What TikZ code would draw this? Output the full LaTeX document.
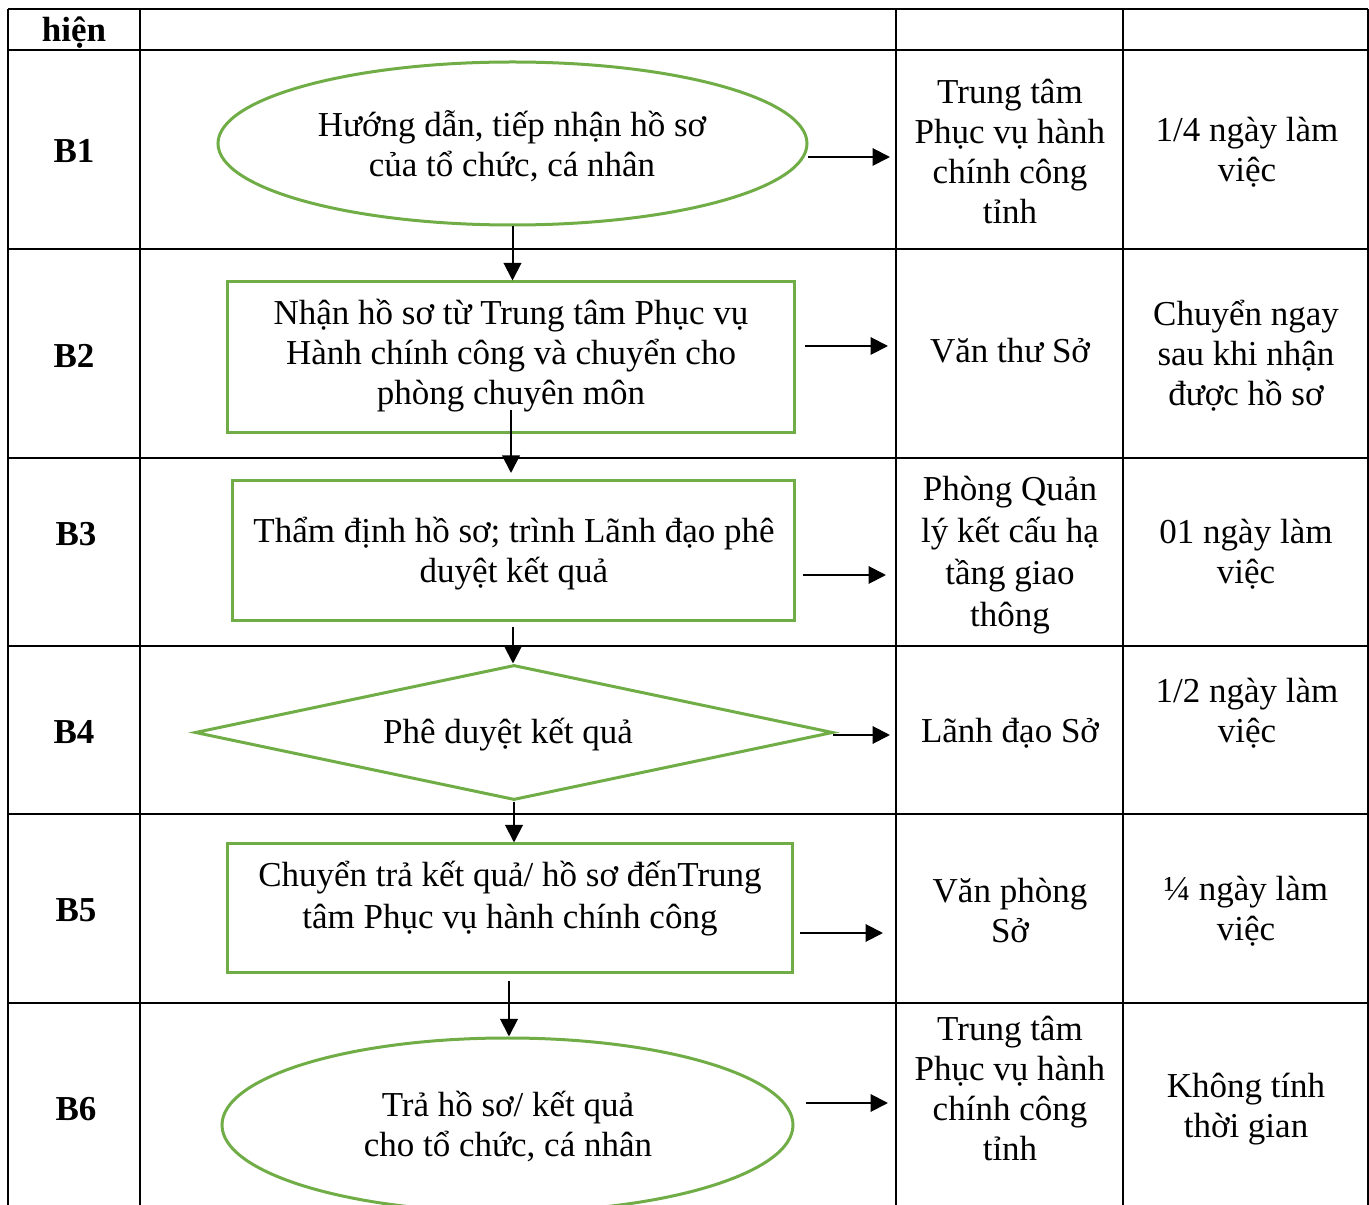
\documentclass[tikz,border=0pt]{standalone}
\usepackage{fontspec}
\setmainfont{Liberation Serif}
\usetikzlibrary{shapes.geometric,arrows.meta}
\definecolor{gr}{HTML}{70AD47}
\begin{document}
\begin{tikzpicture}[x=0.4pt,y=-0.4pt,
  txt/.style={font=\fontsize{14}{16}\selectfont, align=center, inner sep=0pt},
  txtw/.style={font=\fontsize{14}{16.8}\selectfont, align=center, inner sep=0pt},
  lbl/.style={font=\fontsize{14}{16}\selectfont\bfseries, inner sep=0pt},
  gshape/.style={draw=gr, line width=1.2pt, inner sep=0pt},
  arr/.style={-{Triangle[length=7pt,width=7pt]}, line width=0.8pt},
  gridline/.style={line width=0.8pt}]
\useasboundingbox (0,0) rectangle (1369,1205);
\clip (0,0) rectangle (1369,1205);
% table
\foreach \yy in {9,50,249,458,646,814,1003}
  \draw[gridline] (8,\yy) -- (1368,\yy);
\foreach \xx in {8,140,896,1123,1368}
  \draw[gridline] (\xx,9) -- (\xx,1210);
% row labels
\node[lbl] (lh) at (74,34) {\strut hiện};
\node[lbl] (l1) at (74,151) {B1};
\node[lbl] (l2) at (74,356) {B2};
\node[lbl] (l3) at (76,534) {B3};
\node[lbl] (l4) at (74,732) {B4};
\node[lbl] (l5) at (76,910) {B5};
\node[lbl] (l6) at (76,1109) {B6};
% shapes
\node[gshape, ellipse, minimum width=235.6pt, minimum height=65.2pt] (b1) at (512.5,143.5) {};
\node[gshape, rectangle, minimum width=226.4pt, minimum height=60.4pt] (b2) at (511,357.5) {};
\node[gshape, rectangle, minimum width=224.4pt, minimum height=56pt] (b3) at (513.5,551) {};
\node[gshape, diamond, minimum width=255.2pt, minimum height=54pt] (b4) at (514,732.5) {};
\node[gshape, rectangle, minimum width=225.6pt, minimum height=51.2pt] (b5) at (510,908) {};
\node[gshape, ellipse, minimum width=228.4pt, minimum height=69.6pt] (b6) at (507.5,1125) {};
% shape texts
\node[txt] (t1) at (512,146) {Hướng dẫn, tiếp nhận hồ sơ\\của tổ chức, cá nhân};
\node[txt] (t2) at (511,356) {Nhận hồ sơ từ Trung tâm Phục vụ\\Hành chính công và chuyển cho\\phòng chuyên môn};
\node[txt] (t3) at (514,554) {Thẩm định hồ sơ; trình Lãnh đạo phê\\duyệt kết quả};
\node[txt] (t4) at (508,735) {Phê duyệt kết quả};
\node[txtw] (t5) at (510,899) {Chuyển trả kết quả/ hồ sơ đếnTrung\\tâm Phục vụ hành chính công};
\node[txt] (t6) at (508,1127) {Trả hồ sơ/ kết quả\\cho tổ chức, cá nhân};
% column 3 and 4 texts
\node[txt] (r1c3) at (1010,151) {Trung tâm\\Phục vụ hành\\chính công\\tỉnh};
\node[txt] (r1c4) at (1247,152) {1/4 ngày làm\\việc};
\node[txt] (r2c3) at (1010,351) {Văn thư Sở};
\node[txt] (r2c4) at (1246,356) {Chuyển ngay\\sau khi nhận\\được hồ sơ};
\node[txtw] (r3c3) at (1010,555) {Phòng Quản\\lý kết cấu hạ\\tầng giao\\thông};
\node[txt] (r3c4) at (1246,554) {01 ngày làm\\việc};
\node[txt] (r4c3) at (1010,733) {Lãnh đạo Sở};
\node[txt] (r4c4) at (1247,713) {1/2 ngày làm\\việc};
\node[txt] (r5c3) at (1010,911) {Văn phòng\\Sở};
\node[txt] (r5c4) at (1246,911) {¼ ngày làm\\việc};
\node[txt] (r6c3) at (1010,1088) {Trung tâm\\Phục vụ hành\\chính công\\tỉnh};
\node[txt] (r6c4) at (1246,1109) {Không tính\\thời gian};
% vertical arrows
\draw[arr] (b1.south) -- (b1.south |- b2.north);
\coordinate (v2s) at (511,410);
\coordinate (v2e) at (511,473);
\draw[arr] (v2s) -- (v2e);
\coordinate (v3s) at (513,627);
\draw[arr] (v3s) -- (v3s |- b4.north);
\draw[arr] (b4.south) -- (b4.south |- b5.north);
\coordinate (v5s) at (509,981);
\draw[arr] (v5s) -- (v5s |- b6.north);
% horizontal arrows
\coordinate (h1s) at (808,157); \coordinate (h1e) at (890,157);
\coordinate (h2s) at (805,346); \coordinate (h2e) at (888,346);
\coordinate (h3s) at (803,575); \coordinate (h3e) at (886,575);
\coordinate (h4s) at (833,735); \coordinate (h4e) at (890,735);
\coordinate (h5s) at (800,933); \coordinate (h5e) at (883,933);
\coordinate (h6s) at (806,1103); \coordinate (h6e) at (888,1103);
\draw[arr] (h1s) -- (h1e);
\draw[arr] (h2s) -- (h2e);
\draw[arr] (h3s) -- (h3e);
\draw[arr] (h4s) -- (h4e);
\draw[arr] (h5s) -- (h5e);
\draw[arr] (h6s) -- (h6e);
\end{tikzpicture}
\end{document}
